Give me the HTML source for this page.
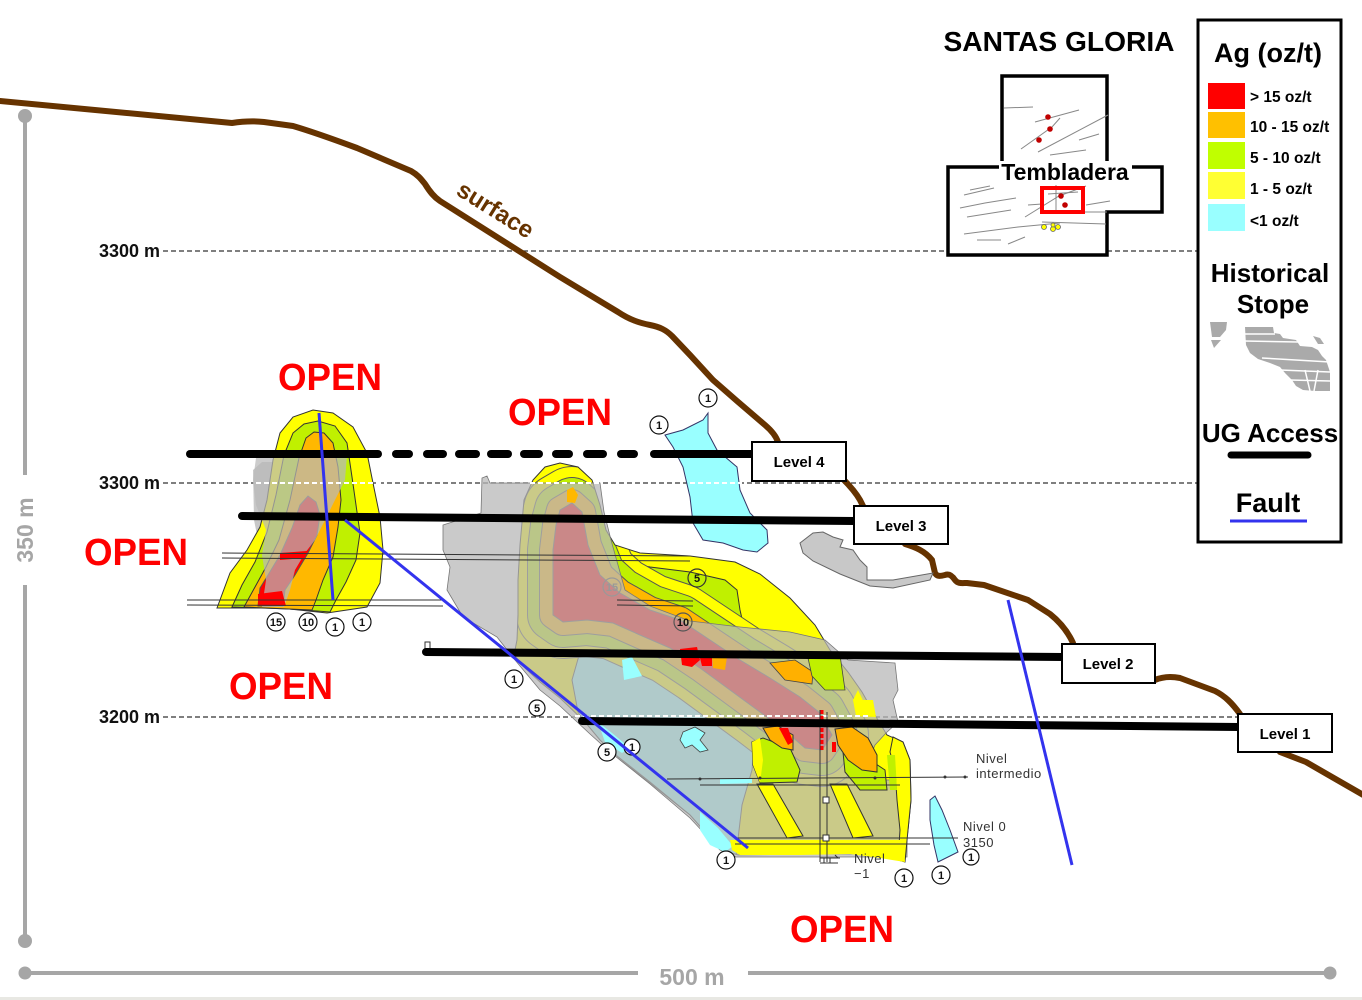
<!DOCTYPE html>
<html><head><meta charset="utf-8"><style>
html,body{margin:0;padding:0;background:#fff;}
svg{display:block;}
text{font-family:"Liberation Sans",Arial,sans-serif;}
</style></head><body>
<svg width="1362" height="1000" viewBox="0 0 1362 1000" xmlns="http://www.w3.org/2000/svg">
<defs>
<clipPath id="cB"><path d="M524,500 L533,480 L545,467 L560,463 L578,467 L592,480 L600,505 L606,530 L615,545 L640,553 L690,556 L735,562 L760,574 L790,598 L815,625 L830,650 L848,672 L862,692 L875,715 L887,735 L903,742 L910,760 L911,800 L908,830 L904,860 L860,854 L800,854 L738,855 L722,850 L705,832 L690,815 L665,795 L640,775 L618,757 L600,740 L585,722 L560,698 L540,682 L525,668 L514,655 L517,640 L518,615 L518,580 L520,545 Z"/></clipPath>
<path id="core" d="M560,510 L572,503 L582,512 L588,545 L600,575 L620,593 L650,610 L680,620 L710,640 L740,660 L770,678 L800,697 L820,713 L832,735 L822,750 L805,748 L790,735 L760,712 L730,690 L700,668 L670,648 L640,635 L613,623 L587,620 L563,622 L553,615 L553,590 L553,550 L556,525 Z"/>
</defs>
<rect x="0" y="0" width="1362" height="1000" fill="#fff"/>
<rect x="0" y="997" width="1362" height="3" fill="#e8e8e3"/>

<!-- scale bars -->
<g stroke="#a6a6a6" stroke-width="4" fill="none">
<line x1="25" y1="116" x2="25" y2="475"/><line x1="25" y1="585" x2="25" y2="941"/>
<line x1="25" y1="973" x2="638" y2="973"/><line x1="748" y1="973" x2="1330" y2="973"/>
</g>
<g fill="#a6a6a6"><circle cx="25" cy="116" r="7"/><circle cx="25" cy="941" r="7"/><circle cx="25" cy="973" r="6.5"/><circle cx="1330" cy="973" r="6.5"/></g>
<text transform="translate(33,530) rotate(-90)" text-anchor="middle" font-size="23" font-weight="bold" fill="#a6a6a6">350 m</text>
<text x="692" y="985" text-anchor="middle" font-size="23" font-weight="bold" fill="#a6a6a6">500 m</text>

<!-- elevation dashed lines -->
<g stroke="#333" stroke-width="1.2" stroke-dasharray="5 3">
<line x1="163" y1="251" x2="1198" y2="251"/>
<line x1="163" y1="483" x2="1198" y2="483"/>
<line x1="163" y1="717" x2="1238" y2="717"/>
</g>
<g font-size="18" font-weight="bold" fill="#111" text-anchor="end">
<text x="160" y="257">3300 m</text><text x="160" y="489">3300 m</text><text x="160" y="723">3200 m</text>
</g>

<!-- surface -->
<g stroke="#663300" stroke-width="6" fill="none" stroke-linecap="round" stroke-linejoin="round">
<path d="M0,101 L232,123 C245,121 255,121 264,122 L293,126 C310,131 330,138 357,148 L411,171 C418,175 421,179 425,184 C430,192 434,197 440,201 L560,277 L618,312 C630,320 640,323 650,325 C660,327 666,330 672,336 L690,355 L713,380 L737,401 L765,425 C772,431 776,436 778,442"/>
<path d="M843,479 C850,486 856,493 860,500 L863,506"/>
<path d="M905,544 C915,547 925,551 932,560 L935,573 C937,577 941,576 945,575 C950,573 953,577 955,580 C958,584 962,583 967,583 L984,585 L1028,600 L1050,614 C1060,622 1068,632 1073,643"/>
<path d="M1155,680 C1162,677 1170,676 1180,678 L1215,691 C1225,696 1232,703 1240,714"/>
<path d="M1280,752 L1306,762 L1332,777 L1365,796"/>
</g>
<text transform="translate(455,194) rotate(32)" font-size="24" font-weight="bold" fill="#663300">surface</text>

<!-- grey stope islands -->
<path d="M800,543 L813,533 L823,532 L833,537 L843,540 L840,547 L853,550 L860,560 L867,567 L867,580 L893,580 L933,573 L930,580 L893,588 L870,586 L840,574 L813,561 L803,553 Z" fill="#c8c8c8" stroke="#666" stroke-width="1"/>
<path d="M253,470 L262,462 L275,462 L272,500 L266,530 L258,540 L254,520 Z" fill="#c8c8c8"/>

<!-- cyan upper blob -->
<path d="M665,435 L683,430 L703,420 L708,413 L708,433 L717,450 L737,467 L740,490 L750,513 L767,530 L768,543 L757,552 L743,550 L723,543 L703,540 L693,523 L690,497 L683,467 L673,447 Z" fill="#99ffff" stroke="#336" stroke-width="1"/>
<!-- cyan lower right blob -->
<path d="M930,800 L935,796 L942,810 L950,830 L958,852 L950,856 L938,862 L934,845 L930,820 Z" fill="#99ffff" stroke="#336" stroke-width="1"/>

<!-- LEFT ORE BODY -->
<path d="M217,608 L230,573 L247,550 L260,527 L267,500 L273,460 L280,433 L293,417 L313,410 L333,413 L353,427 L367,453 L373,483 L380,517 L383,550 L380,583 L367,607 L327,613 L280,608 Z" fill="#ffff00" stroke="#333" stroke-width="1"/>
<path d="M232,607 L242,585 L255,562 L267,532 L276,495 L284,455 L293,433 L304,424 L318,421 L335,426 L347,443 L352,477 L356,505 L360,533 L356,560 L346,582 L336,600 L330,612 L290,609 Z" fill="#c0f000" stroke="#333" stroke-width="1"/>
<path d="M244,607 L255,587 L266,567 L279,540 L290,500 L299,458 L306,438 L314,432 L324,433 L333,443 L338,467 L341,500 L338,527 L333,557 L323,580 L316,600 L312,610 Z" fill="#ffb800" stroke="#333" stroke-width="1"/>
<path d="M300,505 L308,496 L316,502 L320,515 L317,535 L308,553 L295,575 L285,590 L283,606 L258,606 L260,588 L268,575 L280,555 L292,528 Z" fill="#ff0000" stroke="#555" stroke-width="1"/>
<path d="M256,458 L347,455 L345,480 L335,500 L325,520 L315,540 L305,553 L295,570 L290,590 L284,607 L262,607 L266,580 L262,555 L266,530 L256,505 L253,480 Z" fill="#b8b8b8" fill-opacity="0.72"/>
<path d="M280,553 L307,551 L305,558 L280,560 Z" fill="#f00"/>
<path d="M258,594 L282,591 L286,606 L258,606 Z" fill="#f00"/>

<!-- MAIN ORE BODY -->
<g clip-path="url(#cB)">
<rect x="500" y="450" width="420" height="420" fill="#ffff00"/>
<path d="M580,652 L600,645 L640,662 L680,690 L720,714 L755,740 L752,770 L742,805 L736,856 L722,850 L705,832 L690,815 L650,782 L612,752 L592,735 L578,712 L572,680 Z" fill="#99ffff" stroke="#444" stroke-width="1"/>
<path d="M610,560 L650,567 L690,572 L725,580 L737,590 L740,610 L745,632 L700,625 L660,612 L630,595 L615,578 Z" fill="#c0f000" stroke="#333" stroke-width="1"/>
<use href="#core" fill="none" stroke="#555" stroke-width="74" stroke-linejoin="round"/>
<use href="#core" fill="none" stroke="#ffff00" stroke-width="72" stroke-linejoin="round"/>
<use href="#core" fill="none" stroke="#555" stroke-width="52" stroke-linejoin="round"/>
<use href="#core" fill="none" stroke="#c0f000" stroke-width="50" stroke-linejoin="round"/>
<use href="#core" fill="none" stroke="#555" stroke-width="28" stroke-linejoin="round"/>
<use href="#core" fill="none" stroke="#ffb800" stroke-width="26" stroke-linejoin="round"/>
<use href="#core" fill="#ff0000" stroke="#555" stroke-width="1"/>
</g>
<path d="M524,500 L533,480 L545,467 L560,463 L578,467 L592,480 L600,505 L606,530 L615,545 L640,553 L690,556 L735,562 L760,574 L790,598 L815,625 L830,650 L848,672 L862,692 L875,715 L887,735 L903,742 L910,760 L911,800 L908,830 L904,860 L860,854 L800,854 L738,855 L722,850 L705,832 L690,815 L665,795 L640,775 L618,757 L600,740 L585,722 L560,698 L540,682 L525,668 L514,655 L517,640 L518,615 L518,580 L520,545 Z" fill="none" stroke="#333" stroke-width="1"/>

<!-- stope overlay -->
<path d="M443,525 L481,513 L482,478 L487,476 L490,483 L600,483 L604,512 L611,540 L618,565 L625,590 L650,606 L690,621 L740,627 L790,632 L825,640 L848,660 L895,663 L898,690 L893,700 L898,722 L886,733 L875,745 L860,780 L907,780 L907,857 L736,857 L720,850 L690,818 L650,784 L610,752 L590,734 L560,706 L540,690 L515,660 L497,637 L463,617 L447,590 L450,567 L443,550 Z" fill="#b8b8b8" fill-opacity="0.74" stroke="#777" stroke-width="0.8"/>

<!-- bright patches after overlay -->
<path d="M567,490 L573,487 L578,495 L575,503 L567,502 Z" fill="#ffb800"/>
<path d="M622,660 L632,657 L642,676 L624,680 Z" fill="#99ffff"/>
<path d="M683,732 L695,727 L705,733 L700,740 L708,750 L700,752 L692,745 L685,748 L680,740 Z" fill="#99ffff" stroke="#444" stroke-width="0.8"/>
<path d="M598,722 L612,733 L630,748 L622,753 L605,742 Z" fill="#99ffff"/>
<path d="M700,812 L718,828 L733,846 L725,852 L710,845 L700,830 Z" fill="#99ffff"/>
<path d="M720,779 L752,778 L752,783 L720,784 Z" fill="#99ffff"/>
<!-- level 2 patches -->
<path d="M680,649 L697,647 L700,660 L692,667 L682,665 Z" fill="#f00"/>
<path d="M700,658 L712,656 L712,666 L702,666 Z" fill="#f00"/>
<path d="M712,656 L727,657 L725,670 L713,668 Z" fill="#ffb000"/>
<path d="M770,663 L795,660 L813,672 L812,684 L785,680 Z" fill="#ffb000" stroke="#444" stroke-width="0.8"/>
<path d="M808,658 L840,655 L845,690 L825,690 L812,676 Z" fill="#c0f000" stroke="#444" stroke-width="0.8"/>
<path d="M853,700 L873,700 L876,717 L856,716 Z" fill="#ffff00"/>
<!-- lower section -->
<path d="M752,742 L763,738 L790,748 L800,770 L797,782 L760,783 L753,765 Z" fill="#c0f000" stroke="#333" stroke-width="1"/>
<path d="M752,742 L760,738 L763,760 L760,783 L753,765 Z" fill="#ffff00"/>
<path d="M763,728 L778,726 L793,735 L793,750 L782,748 L770,740 Z" fill="#ffb000" stroke="#333" stroke-width="1"/>
<path d="M779,728 L788,728 L793,742 L788,745 Z" fill="#f00"/>
<path d="M843,752 L870,760 L885,770 L887,790 L860,790 L845,772 Z" fill="#c0f000" stroke="#333" stroke-width="1"/>
<path d="M835,729 L852,727 L868,738 L877,755 L877,772 L862,770 L848,760 L838,745 Z" fill="#ffb000" stroke="#333" stroke-width="1"/>
<path d="M832,742 L836,742 L836,752 L832,752 Z" fill="#f00"/>
<path d="M893,737 L903,742 L910,760 L911,800 L908,830 L905,862 L898,860 L900,830 L897,800 L895,770 L890,752 Z" fill="#ffff00" stroke="#333" stroke-width="1"/>
<path d="M887,755 L895,755 L897,790 L890,790 Z" fill="#c0f000"/>
<path d="M757,784 L773,784 L803,836 L787,838 Z" fill="#ffff00" stroke="#333" stroke-width="1"/>
<path d="M830,784 L847,784 L873,836 L853,838 Z" fill="#ffff00" stroke="#333" stroke-width="1"/>
<path d="M730,840 L903,840 L905,862 L880,858 L850,854 L800,855 L740,855 L732,850 Z" fill="#ffff00"/>
<path d="M853,700 L858,690 L870,715 L860,716 Z" fill="#ffff00"/>

<!-- white dashes over bodies -->
<g stroke="#fff" stroke-width="2" stroke-dasharray="5 3">
<line x1="256" y1="483" x2="385" y2="483"/>
<line x1="530" y1="483" x2="600" y2="483"/>
<line x1="690" y1="483" x2="742" y2="483"/>
<line x1="575" y1="716" x2="870" y2="716"/>
</g>

<!-- tunnels -->
<g stroke="#333" stroke-width="1" fill="none">
<line x1="222" y1="553" x2="690" y2="556"/><line x1="222" y1="558" x2="690" y2="561"/>
<line x1="187" y1="600" x2="443" y2="600"/><line x1="187" y1="605" x2="443" y2="606"/>
<line x1="617" y1="600" x2="693" y2="601"/><line x1="617" y1="605" x2="693" y2="606"/>
<line x1="667" y1="779" x2="968" y2="777"/><line x1="700" y1="785" x2="900" y2="785"/>
<line x1="735" y1="838" x2="958" y2="838"/><line x1="735" y1="844" x2="930" y2="844"/>
<line x1="820" y1="710" x2="820" y2="862"/><line x1="827" y1="712" x2="827" y2="862"/>
<path d="M425,653 L425,642 L430,642 L430,653"/>
<path d="M820,858 L840,858 M820,863 L838,863 M824,858 L824,863 M830,858 L830,863 M835,855 L838,858"/>
<rect x="823" y="797" width="6" height="6" fill="#fff"/>
<rect x="823" y="835" width="6" height="6" fill="#fff"/>
</g>
<g fill="#333"><circle cx="700" cy="779" r="1.5"/><circle cx="760" cy="778" r="1.5"/><circle cx="875" cy="778" r="1.5"/><circle cx="945" cy="777" r="1.5"/><circle cx="965" cy="777" r="1.5"/></g>
<line x1="822" y1="710" x2="822" y2="752" stroke="#f00" stroke-width="3" stroke-dasharray="4 2"/>

<!-- Nivel labels -->
<g font-size="13" fill="#333" letter-spacing="0.5">
<text x="976" y="763">Nivel</text><text x="976" y="778">intermedio</text>
<text x="963" y="831">Nivel  0</text><text x="963" y="847">3150</text>
<text x="854" y="863">Nivel</text><text x="854" y="878">−1</text>
</g>

<!-- circled numbers -->
<g font-size="11" font-weight="bold" text-anchor="middle" fill="#111">
<g stroke="#111" stroke-width="1.2" fill="#fff">
<circle cx="276" cy="622" r="9"/><circle cx="308" cy="622" r="9"/><circle cx="335" cy="627" r="9"/><circle cx="362" cy="622" r="9"/>
<circle cx="659" cy="425" r="9"/><circle cx="708" cy="398" r="9"/>
<circle cx="514" cy="679" r="9"/><circle cx="537" cy="708" r="8"/><circle cx="607" cy="752" r="9"/><circle cx="632" cy="747" r="8"/>
<circle cx="726" cy="860" r="9"/><circle cx="904" cy="878" r="9"/><circle cx="941" cy="875" r="9"/><circle cx="971" cy="857" r="8"/>
</g>
<circle cx="697" cy="578" r="9" fill="none" stroke="#333" stroke-width="1.2"/>
<circle cx="683" cy="622" r="9" fill="none" stroke="#555" stroke-width="1.2"/>
<circle cx="612" cy="587" r="9" fill="none" stroke="#999" stroke-width="1.2"/>
<text x="276" y="626">15</text><text x="308" y="626">10</text><text x="335" y="631">1</text><text x="362" y="626">1</text>
<text x="659" y="429">1</text><text x="708" y="402">1</text>
<text x="697" y="582">5</text><text x="683" y="626">10</text><text x="612" y="591" fill="#999">15</text>
<text x="514" y="683">1</text><text x="537" y="712">5</text><text x="607" y="756">5</text><text x="632" y="751">1</text>
<text x="726" y="864">1</text><text x="904" y="882">1</text><text x="941" y="879">1</text><text x="971" y="861">1</text>
</g>

<!-- UG access lines -->
<g stroke="#000" stroke-width="8" stroke-linecap="round" fill="none">
<line x1="190" y1="454" x2="378" y2="454"/>
<line x1="396" y1="454" x2="409" y2="454"/>
<line x1="427" y1="454" x2="443" y2="454"/>
<line x1="459" y1="454" x2="476" y2="454"/>
<line x1="491" y1="454" x2="508" y2="454"/>
<line x1="524" y1="454" x2="539" y2="454"/>
<line x1="556" y1="454" x2="569" y2="454"/>
<line x1="587" y1="454" x2="603" y2="454"/>
<line x1="621" y1="454" x2="634" y2="454"/>
<line x1="654" y1="454" x2="752" y2="454"/>
<line x1="242" y1="516" x2="855" y2="521"/>
<line x1="426" y1="652" x2="1063" y2="657"/>
<line x1="582" y1="721" x2="1239" y2="727"/>
</g>

<!-- faults -->
<g stroke="#3333ee" stroke-width="3" fill="none">
<line x1="319" y1="413" x2="333" y2="600"/>
<line x1="345" y1="520" x2="748" y2="848"/>
<line x1="1008" y1="600" x2="1072" y2="865"/>
</g>

<!-- level boxes -->
<g fill="#fff" stroke="#000" stroke-width="2">
<rect x="752" y="442" width="94" height="39"/>
<rect x="854" y="506" width="94" height="38"/>
<rect x="1062" y="644" width="93" height="39"/>
<rect x="1238" y="714" width="94" height="38"/>
</g>
<g font-size="15" font-weight="bold" fill="#000" text-anchor="middle">
<text x="799" y="467">Level 4</text>
<text x="901" y="531">Level 3</text>
<text x="1108" y="669">Level 2</text>
<text x="1285" y="739">Level 1</text>
</g>

<!-- OPEN labels -->
<g font-size="38" font-weight="bold" fill="#f00" text-anchor="middle">
<text x="330" y="390" textLength="104" lengthAdjust="spacingAndGlyphs">OPEN</text>
<text x="560" y="425" textLength="104" lengthAdjust="spacingAndGlyphs">OPEN</text>
<text x="136" y="565" textLength="104" lengthAdjust="spacingAndGlyphs">OPEN</text>
<text x="281" y="699" textLength="104" lengthAdjust="spacingAndGlyphs">OPEN</text>
<text x="842" y="942" textLength="104" lengthAdjust="spacingAndGlyphs">OPEN</text>
</g>

<!-- title & inset -->
<text x="1059" y="51" text-anchor="middle" font-size="28" font-weight="bold" fill="#000" textLength="231" lengthAdjust="spacingAndGlyphs">SANTAS GLORIA</text>
<path d="M1002,76 L1107,76 L1107,167 L1162,167 L1162,212 L1107,212 L1107,255 L948,255 L948,167 L1002,167 Z" fill="#fff" stroke="#000" stroke-width="3.5"/>
<g stroke="#888" stroke-width="1" fill="none">
<path d="M1004,108 L1033,107"/><path d="M1035,122 L1079,110"/><path d="M1021,149 L1052,127 L1060,118"/>
<path d="M1038,152 L1108,115"/><path d="M1079,140 L1099,134"/><path d="M1050,155 L1086,150"/>
<path d="M964,195 L994,188"/><path d="M970,190 L990,186"/><path d="M960,208 L985,203 L1016,198"/>
<path d="M967,217 L1011,210"/><path d="M1028,205 L1042,204"/><path d="M1025,217 L1059,196 L1086,186"/>
<path d="M964,234 L1018,227 L1060,223"/><path d="M977,240 L1001,240"/><path d="M1008,244 L1025,237"/>
<path d="M1042,222 L1106,224"/><path d="M1086,205 L1110,201"/><path d="M1048,194 L1078,192"/>
<path d="M1056,185 L1056,212"/><path d="M1084,212 L1107,212"/>
</g>
<rect x="1042" y="188" width="41" height="24" fill="none" stroke="#f00" stroke-width="4"/>
<g fill="#c00000"><circle cx="1048" cy="117" r="2.8"/><circle cx="1050" cy="129" r="2.8"/><circle cx="1039" cy="140" r="2.8"/><circle cx="1061" cy="196" r="2.8"/><circle cx="1065" cy="205" r="2.8"/></g>
<g fill="#ffff00" stroke="#666" stroke-width="0.8"><circle cx="1044" cy="227" r="2.5"/><circle cx="1053" cy="229" r="2.5"/><circle cx="1058" cy="227" r="2.5"/><circle cx="1053" cy="225" r="2"/></g>
<rect x="999" y="161" width="133" height="14" fill="#fff"/>
<text x="1065" y="180" text-anchor="middle" font-size="23" font-weight="bold" fill="#000">Tembladera</text>

<!-- legend -->
<rect x="1198" y="20" width="143" height="522" fill="#fff" stroke="#000" stroke-width="3"/>
<text x="1268" y="62" text-anchor="middle" font-size="27" font-weight="bold" fill="#000">Ag (oz/t)</text>
<rect x="1208" y="83" width="37" height="26" fill="#ff0000"/>
<rect x="1208" y="112" width="37" height="26" fill="#ffc000"/>
<rect x="1208" y="142" width="37" height="27" fill="#c0ff00"/>
<rect x="1208" y="172" width="37" height="27" fill="#ffff33"/>
<rect x="1208" y="204" width="37" height="27" fill="#99ffff"/>
<g font-size="15.5" font-weight="bold" fill="#000">
<text x="1250" y="102">&gt; 15 oz/t</text>
<text x="1250" y="132">10 - 15 oz/t</text>
<text x="1250" y="163">5 - 10 oz/t</text>
<text x="1250" y="194">1 - 5 oz/t</text>
<text x="1250" y="226">&lt;1 oz/t</text>
</g>
<g font-size="26" font-weight="bold" fill="#000" text-anchor="middle">
<text x="1270" y="282">Historical</text>
<text x="1273" y="313">Stope</text>
<text x="1270" y="442">UG Access</text>
<text x="1268" y="512" font-size="27">Fault</text>
</g>
<g fill="#aaaaaa">
<path d="M1210,322 L1227,322 L1226,330 L1220,337 L1212,337 Z"/>
<path d="M1211,340 L1221,340 L1214,348 Z"/>
<path d="M1245,327 L1273,327 L1274,333 L1280,334 L1283,338 L1296,340 L1300,346 L1312,347 L1318,350 L1322,356 L1326,360 L1330,372 L1330,391 L1315,391 L1303,390 L1296,386 L1292,380 L1285,373 L1280,367 L1270,363 L1258,359 L1250,353 L1246,345 Z"/>
<path d="M1313,336 L1320,338 L1324,344 L1318,344 Z"/>
</g>
<g stroke="#fff" stroke-width="1.5">
<line x1="1244" y1="334" x2="1275" y2="334"/><line x1="1244" y1="341" x2="1298" y2="342"/>
<line x1="1262" y1="358" x2="1330" y2="362"/><line x1="1280" y1="370" x2="1330" y2="372"/>
<line x1="1290" y1="380" x2="1330" y2="381"/><line x1="1305" y1="370" x2="1310" y2="391"/>
<line x1="1318" y1="370" x2="1314" y2="391"/>
</g>
<line x1="1231" y1="455" x2="1308" y2="455" stroke="#000" stroke-width="7" stroke-linecap="round"/>
<line x1="1230" y1="521" x2="1307" y2="521" stroke="#3333ee" stroke-width="3"/>
</svg>
</body></html>
